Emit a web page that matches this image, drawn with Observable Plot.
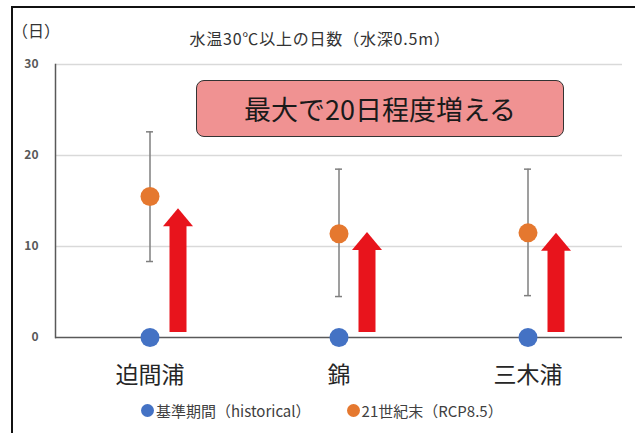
<!DOCTYPE html>
<html><head><meta charset="utf-8">
<script src="https://cdn.jsdelivr.net/npm/d3@7"></script>
<script src="https://cdn.jsdelivr.net/npm/@observablehq/plot@0.6"></script>
<style>
html,body{margin:0;padding:0;background:#fff;}
body{width:635px;height:433px;overflow:hidden;position:relative;font-family:"Noto Sans CJK JP","Noto Sans",sans-serif;}
#frame{position:absolute;left:11px;top:6px;width:640px;height:440px;border-left:2px solid #111;border-top:2px solid #111;}
#unit{position:absolute;left:12px;top:18px;font-size:16px;color:#333;}
#title{position:absolute;left:0;width:640px;top:26px;text-align:center;font-size:16px;letter-spacing:0.8px;color:#333;}
#note{position:absolute;left:196px;top:80px;width:366px;height:55px;background:#f09292;border:1.5px solid #333;border-radius:8px;text-align:center;line-height:55px;font-size:27px;font-weight:400;color:#1a1a1a;}
#legend{position:absolute;top:400px;left:141px;font-size:15px;color:#404040;display:flex;align-items:center;}
#legend .sw{display:inline-block;width:13px;height:13px;border-radius:50%;margin-right:2px;}
#legend .item{display:flex;align-items:center;margin-right:36px;}
#chart{position:absolute;left:0;top:0;}
</style></head>
<body>
<div id="chart"></div>
<div id="frame"></div>
<div id="unit">（日）</div>
<div id="title">水温30℃以上の日数（水深0.5m）</div>
<div id="note">最大で20日程度増える</div>
<div id="legend"></div>
<script>
const sites = ["迫間浦", "錦", "三木浦"];
const historical = [0, 0, 0];
const future = [15.5, 11.4, 11.5];
const futureLow = [8.35, 4.5, 4.6];
const futureHigh = [22.6, 18.5, 18.5];
const arrowTop = [14.2, 11.6, 11.5];
const arrowBase = 0.55;
const yTicks = [0, 10, 20, 30];
const seriesNames = ["基準期間（historical）", "21世紀末（RCP8.5）"];
const seriesColors = ["#4472c4", "#e5782f"];

const rows = sites.map((s, i) => ({site: s, hist: historical[i], fut: future[i], lo: futureLow[i], hi: futureHigh[i], tip: arrowTop[i]}));

const arrowHead = {draw(ctx) { ctx.moveTo(0, 0); ctx.lineTo(15, 18); ctx.lineTo(-15, 18); ctx.closePath(); }};

const chart = Plot.plot({
  width: 635, height: 433,
  marginLeft: 55, marginRight: 13, marginTop: 64, marginBottom: 96,
  style: {fontFamily: '"Noto Sans CJK JP","Noto Sans",sans-serif', background: "transparent"},
  x: {domain: sites, padding: 0, label: null},
  y: {domain: [0, 30], label: null},
  marks: [
    Plot.gridY(yTicks.slice(1), {stroke: "#d9d9d9", strokeOpacity: 1, strokeWidth: 1.5}),
    Plot.axisY(yTicks, {tickSize: 0, tickPadding: 17, fontSize: 12, fontWeight: 700, fill: "#595959", label: null}),
    Plot.axisX({tickSize: 0, tickPadding: 29, fontSize: 23, fontWeight: 400, fill: "#262626", label: null}),
    Plot.frame({anchor: "left", stroke: "#595959", strokeWidth: 1.5}),
    Plot.ruleY([0], {stroke: "#595959", strokeWidth: 1.5}),
    Plot.ruleX(rows, {x: "site", y1: "tip", y2: () => arrowBase, dx: 28, stroke: "#e8141c", strokeWidth: 17, insetTop: 17}),
    Plot.dot(rows, {x: "site", y: "tip", dx: 28, symbol: arrowHead, fill: "#e8141c", r: 10}),
    Plot.ruleX(rows, {x: "site", y1: "lo", y2: "hi", stroke: "#7f7f7f", strokeWidth: 1.5}),
    Plot.tickY(rows, {x: "site", y: "lo", stroke: "#7f7f7f", strokeWidth: 1.5, insetLeft: 91, insetRight: 91}),
    Plot.tickY(rows, {x: "site", y: "hi", stroke: "#7f7f7f", strokeWidth: 1.5, insetLeft: 91, insetRight: 91}),
    Plot.dot(rows, {x: "site", y: "fut", r: 9.5, fill: seriesColors[1]}),
    Plot.dot(rows, {x: "site", y: "hist", r: 9.5, fill: seriesColors[0]})
  ]
});
document.getElementById("chart").appendChild(chart);

const lg = document.getElementById("legend");
seriesNames.forEach((n, i) => {
  const it = document.createElement("span"); it.className = "item";
  const sw = document.createElement("span"); sw.className = "sw"; sw.style.background = seriesColors[i];
  it.appendChild(sw); it.appendChild(document.createTextNode(n)); lg.appendChild(it);
});
</script>
</body></html>
